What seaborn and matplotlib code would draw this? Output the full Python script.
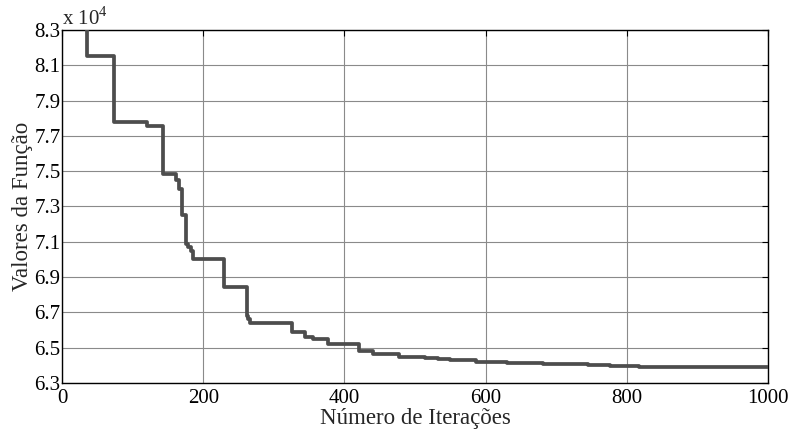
import numpy as np
import pandas as pd
import matplotlib
matplotlib.use("Agg")
import matplotlib.pyplot as plt
import seaborn as sns
from matplotlib.ticker import FuncFormatter, FixedLocator

# Iteration at which the best value changes, and the new best value (x 1e4)
iterations = [0, 35, 73, 121, 143, 161, 165, 170, 175, 178, 183, 186, 229, 262, 264, 266,
              326, 344, 356, 377, 420, 441, 478, 514, 533, 550, 587, 630, 682, 745, 776, 817, 1000]
values = [8.45, 8.154, 7.780, 7.758, 7.484, 7.45, 7.400, 7.250, 7.090, 7.070, 7.050, 7.005,
          6.842, 6.680, 6.660, 6.642, 6.587, 6.559, 6.550, 6.521, 6.483, 6.464, 6.449, 6.442,
          6.434, 6.429, 6.421, 6.413, 6.406, 6.400, 6.396, 6.391, 6.391]
y_ticks = [6.3, 6.5, 6.7, 6.9, 7.1, 7.3, 7.5, 7.7, 7.9, 8.1, 8.3]
x_ticks = [0, 200, 400, 600, 800, 1000]

df = pd.DataFrame({"it": iterations, "val": [v * 1e4 for v in values]})

sns.set_theme(style="white")
plt.rcParams["font.family"] = ["Liberation Serif", "DejaVu Serif"]
plt.rcParams["mathtext.fontset"] = "custom"
plt.rcParams["mathtext.rm"] = "Liberation Serif"

fig = plt.figure(figsize=(7.92, 4.33), dpi=100)
ax = fig.add_axes([0.0783, 0.1155, 0.8914, 0.8152])

sns.lineplot(data=df, x="it", y="val", drawstyle="steps-post", color="#4d4d4d",
             linewidth=2.7, ax=ax, zorder=3)

ax.set_xlim(0, 1000)
ax.set_ylim(6.3e4, 8.3e4)
ax.xaxis.set_major_locator(FixedLocator(x_ticks))
ax.yaxis.set_major_locator(FixedLocator([t * 1e4 for t in y_ticks]))
ax.yaxis.set_major_formatter(FuncFormatter(lambda v, p: f"{v/1e4:.1f}"))
ax.grid(True, color="#8a8a8a", linewidth=0.8)
ax.tick_params(direction="in", length=4, width=0.8, top=True, right=True,
               labelsize=15, colors="black", pad=1)
ax.tick_params(axis="x", pad=4)
for s in ax.spines.values():
    s.set_color("black")
    s.set_linewidth(1.0)
ax.set_xlabel("Número de Iterações", fontsize=16.5, labelpad=0)
ax.set_ylabel("Valores da Função", fontsize=16.5, labelpad=1)
ax.text(0.0, 1.0, r"x 10$^{\mathrm{4}}$", transform=ax.transAxes, fontsize=15,
        ha="left", va="bottom")

fig.savefig("out.png", dpi=100)
